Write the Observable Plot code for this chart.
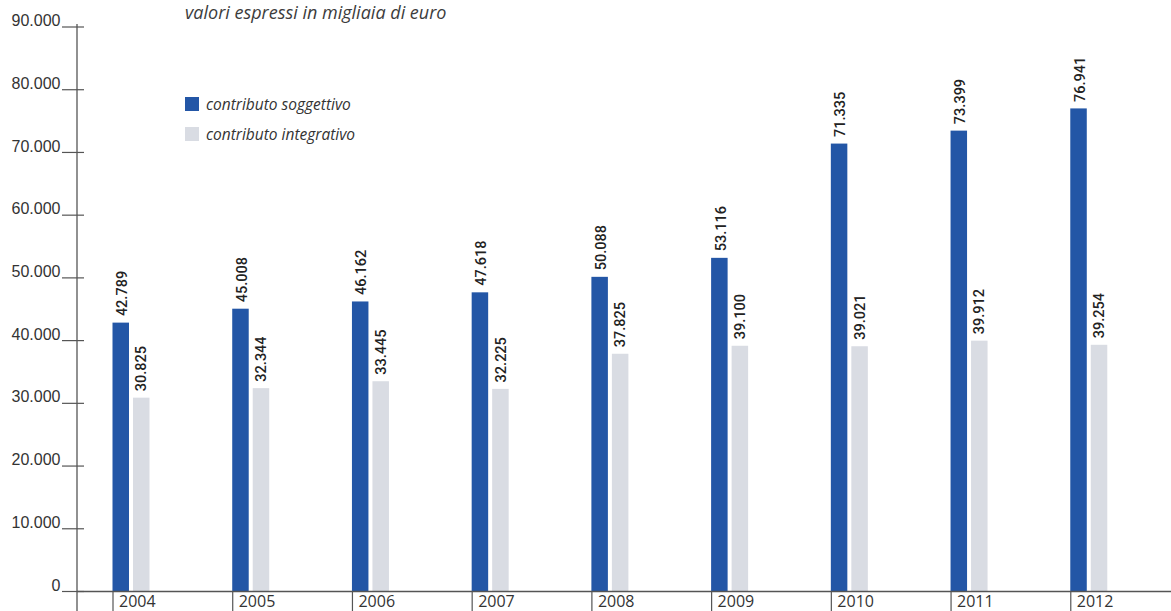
<!DOCTYPE html>
<html>
<head>
<meta charset="utf-8">
<script src="https://cdn.jsdelivr.net/npm/d3@7"></script>
<script src="https://cdn.jsdelivr.net/npm/@observablehq/plot@0.6"></script>
<style>
  html, body { margin: 0; padding: 0; background: #fff; }
  #wrap { position: relative; width: 1171px; height: 611px; overflow: hidden; }
  #title { position: absolute; left: 185px; top: 0px; font: italic 18px/25px "Open Sans", sans-serif; color: #3c3c3c; white-space: nowrap; }
  .leg { position: absolute; left: 185px; font: italic 15.5px "Open Sans", sans-serif; color: #333; white-space: nowrap; display: flex; align-items: center; height: 20px; }
  .sw { width: 14px; height: 14px; margin-right: 7px; display: inline-block; }
  g[aria-label="valori"] text { letter-spacing: 2px; }
</style>
</head>
<body>
<div id="wrap">
  <div id="chart"></div>
  <div id="title"></div>
  <div id="legend"></div>
</div>
<script>
const years = ["2004", "2005", "2006", "2007", "2008", "2009", "2010", "2011", "2012"];
const soggettivo = [42789, 45008, 46162, 47618, 50088, 53116, 71335, 73399, 76941];
const integrativo = [30825, 32344, 33445, 32225, 37825, 39100, 39021, 39912, 39254];
const seriesNames = ["contributo soggettivo", "contributo integrativo"];
const seriesColors = ["#2356a6", "#d9dce3"];
const yTicks = [0, 10000, 20000, 30000, 40000, 50000, 60000, 70000, 80000, 90000];
const titleText = "valori espressi in migliaia di euro";

const fmt = d => d === 0 ? "0" : d3.format(",.0f")(d).replace(/,/g, ".");

const rowsS = years.map((y, i) => ({year: y, value: soggettivo[i]}));
const rowsI = years.map((y, i) => ({year: y, value: integrativo[i]}));

const x0 = 112.5, x1 = 1190;
const bw = (x1 - x0) / years.length;
const barW = 16.5, gap = 4;

const yAxisLine = (index, scales, values, dims) => {
  const l = document.createElementNS("http://www.w3.org/2000/svg", "line");
  l.setAttribute("x1", dims.marginLeft);
  l.setAttribute("x2", dims.marginLeft);
  l.setAttribute("y1", dims.marginTop);
  l.setAttribute("y2", dims.height);
  l.setAttribute("stroke", "#555");
  l.setAttribute("stroke-width", 1.3);
  return l;
};

const chart = Plot.plot({
  width: 1171,
  height: 611,
  marginLeft: 77,
  marginTop: 24,
  marginRight: 0,
  marginBottom: 20,
  x: {type: "band", domain: years, range: [x0, x1], padding: 0, round: false, label: null},
  y: {domain: [0, 90000], range: [591, 26.5], label: null},
  style: {background: "transparent", color: "#333", fontFamily: "'Liberation Sans', Arial, sans-serif"},
  marks: [
    Plot.barY(rowsS, {x: "year", y: "value", fill: seriesColors[0], insetLeft: 0, insetRight: bw - barW}),
    Plot.barY(rowsI, {x: "year", y: "value", fill: seriesColors[1], insetLeft: barW + gap, insetRight: bw - 2 * barW - gap}),
    Plot.text(rowsS, {x: "year", y: "value", text: d => fmt(d.value), rotate: -90, textAnchor: "start",
      dx: barW / 2 - bw / 2 + 1, dy: -7, fontSize: 14.5, fontWeight: 500, fill: "#222",
      fontFamily: "Roboto, sans-serif", ariaLabel: "valori"}),
    Plot.text(rowsI, {x: "year", y: "value", text: d => fmt(d.value), rotate: -90, textAnchor: "start",
      dx: barW + gap + barW / 2 - bw / 2, dy: -7, fontSize: 14.5, fontWeight: 500, fill: "#222",
      fontFamily: "Roboto, sans-serif", ariaLabel: "valori"}),
    Plot.ruleY([0], {stroke: "#555", strokeWidth: 1.3}),
    yAxisLine,
    Plot.axisY({ticks: yTicks, tickSize: 22, dx: 7, tickFormat: () => "", stroke: "#555", strokeWidth: 1.2, label: null}),
    Plot.axisY({ticks: yTicks, tickSize: 0, tickPadding: 17, dy: -6, tickFormat: fmt, fontSize: 16, fill: "#333", label: null}),
    Plot.axisX({tickSize: 20, dx: -bw / 2, tickFormat: () => "", stroke: "#555", strokeWidth: 1.2, label: null}),
    Plot.axisX({tickSize: 0, tickPadding: 4, dx: -bw / 2 + 6, textAnchor: "start", fontSize: 16,
      fontFamily: "'Open Sans', sans-serif", fill: "#333", label: null})
  ]
});
document.getElementById("chart").append(chart);

document.getElementById("title").textContent = titleText;
const legend = document.getElementById("legend");
seriesNames.forEach((name, i) => {
  const row = document.createElement("div");
  row.className = "leg";
  row.style.top = (94 + i * 30) + "px";
  const sw = document.createElement("span");
  sw.className = "sw";
  sw.style.background = seriesColors[i];
  row.append(sw, document.createTextNode(name));
  legend.append(row);
});
</script>
</body>
</html>
